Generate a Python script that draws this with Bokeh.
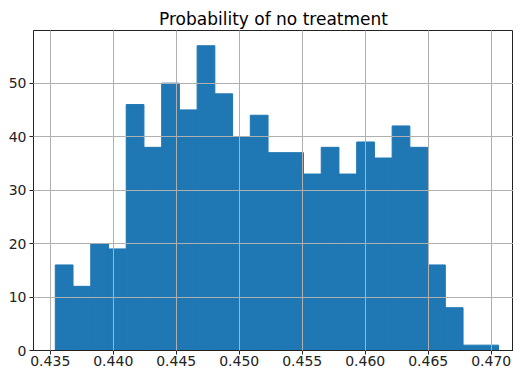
from bokeh.plotting import figure
from bokeh.models import FixedTicker, Range1d, NumeralTickFormatter
from bokeh.embed import file_html
from bokeh.resources import INLINE
import numpy as np

title_text = "Probability of no treatment"
bin_lo = 0.43540
bin_hi = 0.47058
counts = [16, 12, 20, 19, 46, 38, 50, 45, 57, 48, 40, 44, 37, 37, 33, 38, 33, 39, 36, 42, 38, 16, 8, 1, 1]
x_ticks = [0.435, 0.440, 0.445, 0.450, 0.455, 0.460, 0.465, 0.470]
y_ticks = [0, 10, 20, 30, 40, 50]

edges = np.linspace(bin_lo, bin_hi, len(counts) + 1)

p = figure(width=513, height=368, output_backend="svg", toolbar_location=None,
           x_range=Range1d(0.43367, 0.47177),
           y_range=Range1d(0, max(counts) * 1.05),
           min_border_left=33, min_border_right=0, min_border_top=30, min_border_bottom=0)

p.quad(left=edges[:-1], right=edges[1:], top=counts, bottom=0,
       fill_color="#1f77b4", line_color="#1f77b4", line_width=1)

p.title.text = title_text
p.title.align = "center"
p.title.text_font = "DejaVu Sans"
p.title.text_font_size = "17px"
p.title.text_font_style = "normal"
p.title.text_color = "black"
p.title.standoff = 4

p.outline_line_color = "#222222"
p.outline_line_width = 1
p.outline_line_alpha = 1

for ax in (p.xaxis[0], p.yaxis[0]):
    ax.major_label_text_font = "DejaVu Sans"
    ax.major_label_text_font_size = "14px"
    ax.major_label_text_color = "#222222"
    ax.axis_line_color = "#222222"
    ax.major_tick_line_color = "#222222"
    ax.major_tick_in = 0
    ax.major_tick_out = 4
    ax.minor_tick_line_color = None
    ax.major_label_standoff = 3
p.xaxis.major_label_standoff = 1

p.xaxis.ticker = FixedTicker(ticks=x_ticks)
p.xaxis.formatter = NumeralTickFormatter(format="0.000")
p.yaxis.ticker = FixedTicker(ticks=y_ticks)

for g in (p.xgrid[0], p.ygrid[0]):
    g.grid_line_color = "#b0b0b0"
    g.grid_line_width = 1
    g.grid_line_alpha = 1
    g.level = "overlay"
p.xgrid.ticker = FixedTicker(ticks=x_ticks)
p.ygrid.ticker = FixedTicker(ticks=y_ticks)

p.background_fill_color = "white"
p.border_fill_color = "white"

open("out.html", "w").write(file_html(p, INLINE))
